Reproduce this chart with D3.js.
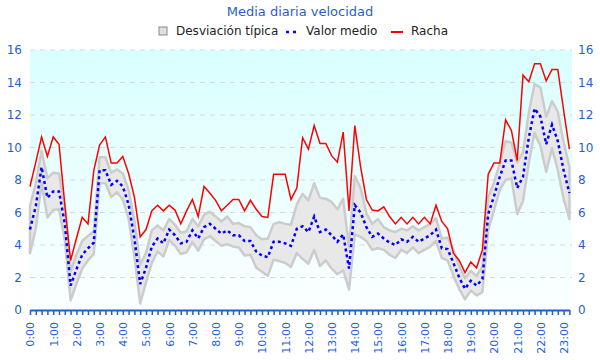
<!DOCTYPE html>
<html>
<head>
<meta charset="utf-8">
<script src="https://cdn.jsdelivr.net/npm/d3@7"></script>
<style>
  body { margin: 0; background: #fff; }
  svg { display: block; font-family: "DejaVu Sans", sans-serif; }
</style>
</head>
<body>
<svg id="chart" width="600" height="360"></svg>
<script>
// datos cada 15 minutos, de 0:00 a 23:15
const racha = [
  7.6, 9.1, 10.65, 9.45, 10.65, 10.2, 6.5, 3.05, 4.4, 5.7,
  5.3, 8.6, 10.15, 10.65, 9.05, 9.05, 9.45, 8.4, 6.95, 4.5,
  4.95, 6.1, 6.45, 6.1, 6.45, 6.15, 5.3, 6.1, 6.8, 5.75,
  7.6, 7.2, 6.75, 6.1, 6.45, 6.8, 6.8, 6.1, 6.75, 6.2,
  5.75, 5.7, 8.35, 8.35, 8.35, 6.8, 7.5, 10.6, 9.9, 11.35,
  10.25, 10.25, 9.5, 9.1, 10.95, 6.1, 11.35, 8.8, 6.8, 6.15,
  6.1, 6.35, 5.75, 5.3, 5.7, 5.3, 5.7, 5.3, 5.7, 5.3,
  6.45, 5.45, 5.0, 3.5, 3.05, 2.3, 2.95, 2.6, 3.7, 8.35,
  9.05, 9.05, 11.7, 11.05, 9.2, 14.45, 14.05, 15.15, 15.15, 14.1,
  14.8, 14.8, 12.3, 9.9
];
const media = [
  4.95, 6.4, 8.8, 6.9, 7.3, 7.3, 5.3, 1.5, 2.5, 3.4,
  3.8, 4.15, 8.6, 8.6, 7.7, 7.95, 7.6, 6.5, 4.4, 1.6,
  2.6, 3.9, 4.4, 4.1, 4.95, 4.6, 4.1, 4.2, 4.9, 4.4,
  5.1, 5.3, 5.0, 4.7, 4.9, 4.6, 4.6, 4.25, 4.25, 3.6,
  3.35, 3.25, 4.2, 4.2, 4.1, 3.95, 5.0, 5.15, 4.8, 5.75,
  4.8, 4.95, 4.6, 4.2, 4.65, 2.55, 6.45, 6.0, 5.1, 4.5,
  4.7, 4.4, 4.15, 4.0, 4.35, 4.2, 4.5, 4.2, 4.4, 4.6,
  4.95, 3.8, 3.75, 2.9, 2.0, 1.3, 1.8, 1.5, 1.9, 5.9,
  7.0, 8.2, 9.2, 9.2, 7.5, 8.2, 10.6, 12.4, 11.9, 10.2,
  11.4, 10.4, 8.6, 7.2
];
const desv = [
  1.45, 1.4, 1.0, 1.2, 1.15, 1.1, 1.0, 0.9, 0.9, 0.85,
  0.75, 0.7, 0.8, 0.8, 0.75, 0.7, 0.8, 0.9, 1.1, 1.2,
  0.9, 1.0, 0.8, 0.8, 0.65, 0.65, 0.65, 0.65, 0.7, 0.75,
  0.75, 0.75, 0.75, 0.75, 0.85, 0.7, 0.75, 0.9, 0.85, 1.0,
  1.0, 1.15, 1.1, 1.2, 1.2, 1.3, 1.5, 2.0, 1.95, 2.05,
  2.1, 1.9, 2.05, 2.0, 2.2, 1.3, 1.8, 1.5, 0.85, 0.8,
  0.9, 0.7, 0.75, 0.8, 0.65, 0.7, 0.65, 0.7, 0.7, 0.7,
  0.7, 0.6, 0.7, 0.8, 0.7, 0.65, 0.6, 0.6, 0.8, 1.0,
  0.85, 0.8, 1.2, 1.1, 1.6, 1.5, 1.55, 1.5, 1.8, 1.7,
  1.45, 1.8, 1.75, 1.6
];
const horas = d3.range(24).map(h => h + ":00");
const yTicks = [0, 2, 4, 6, 8, 10, 12, 14, 16];
const leyenda = ["Desviación típica", "Valor medio", "Racha"];
const paso = 15; // minutos

const azul = "#1f5fd3";
const svg = d3.select("#chart");

const x = d3.scaleLinear().domain([0, (media.length - 1) * paso]).range([30, 569.4]);
const y = d3.scaleLinear().domain([0, 16]).range([310, 50]);
const datos = media.map((m, i) => ({ t: i * paso, m, s: desv[i], r: racha[i] }));

// fondo degradado
const grad = svg.append("defs").append("linearGradient")
  .attr("id", "fondo").attr("x1", 0).attr("y1", 0).attr("x2", 0).attr("y2", 1);
grad.append("stop").attr("offset", "0%").attr("stop-color", "#d9ffff");
grad.append("stop").attr("offset", "100%").attr("stop-color", "#fbffff");

svg.append("rect")
  .attr("x", 30).attr("y", y(16))
  .attr("width", 572 - 30).attr("height", y(0) - y(16))
  .attr("fill", "url(#fondo)");

// rejilla
svg.append("g").selectAll("line")
  .data(yTicks.filter(d => d > 0))
  .join("line")
  .attr("x1", 30).attr("x2", 572)
  .attr("y1", d => y(d)).attr("y2", d => y(d))
  .attr("stroke", "#d8d8d8")
  .attr("stroke-dasharray", "5,5");

// banda desviación
const area = d3.area()
  .x(d => x(d.t))
  .y0(d => y(d.m - d.s))
  .y1(d => y(d.m + d.s));
svg.append("path").datum(datos)
  .attr("d", area)
  .attr("fill", "#e8e8e8")
  .attr("stroke", "#cccccc")
  .attr("stroke-width", 2.5)
  .attr("stroke-linejoin", "round");

// valor medio
svg.append("path").datum(datos)
  .attr("d", d3.line().x(d => x(d.t)).y(d => y(d.m)))
  .attr("fill", "none")
  .attr("stroke", "#0000ff")
  .attr("stroke-width", 2.5)
  .attr("stroke-dasharray", "3,3");

// racha
svg.append("path").datum(datos)
  .attr("d", d3.line().x(d => x(d.t)).y(d => y(d.r)))
  .attr("fill", "none")
  .attr("stroke", "#ff0000")
  .attr("stroke-width", 1.5);

// ejes Y
const ejeIzq = svg.append("g").attr("transform", "translate(22,0)")
  .call(d3.axisLeft(y).tickValues(yTicks).tickSize(0).tickPadding(0));
const ejeDer = svg.append("g").attr("transform", "translate(578,0)")
  .call(d3.axisRight(y).tickValues(yTicks).tickSize(0).tickPadding(0));
[ejeIzq, ejeDer].forEach(g => {
  g.select(".domain").remove();
  g.selectAll("text").attr("fill", azul).style("font-size", "12px")
    .style("font-family", "DejaVu Sans");
});

// eje X
const ticksX = d3.range(0, media.length * paso, paso);
const ejeX = svg.append("g").attr("transform", "translate(0,310)")
  .call(d3.axisBottom(x)
    .tickValues(ticksX)
    .tickSize(5)
    .tickSizeOuter(0)
    .tickFormat(d => d % 60 === 0 ? horas[d / 60] : ""));
ejeX.select(".domain").attr("stroke", azul).attr("stroke-width", 2);
ejeX.selectAll(".tick line").attr("stroke", azul).attr("stroke-width", 1.5);
ejeX.selectAll("text")
  .attr("fill", azul)
  .style("font-size", "11px")
  .style("font-family", "DejaVu Sans")
  .attr("transform", "rotate(-90)")
  .attr("x", -12).attr("y", 0).attr("dy", "0.35em")
  .attr("text-anchor", "end");

// título
svg.append("text")
  .attr("x", 300).attr("y", 16)
  .attr("text-anchor", "middle")
  .attr("fill", azul)
  .style("font-size", "13px")
  .text("Media diaria velocidad");

// leyenda
const ley = svg.append("g").style("font-size", "12px").attr("fill", "#222");
ley.append("rect").attr("x", 159).attr("y", 27).attr("width", 8).attr("height", 8)
  .attr("fill", "#e0e0e0").attr("stroke", "#888");
ley.append("text").attr("x", 176).attr("y", 35).text(leyenda[0]);
ley.append("line").attr("x1", 286).attr("x2", 299).attr("y1", 32).attr("y2", 32)
  .attr("stroke", "#0000ff").attr("stroke-width", 2.5).attr("stroke-dasharray", "3,4");
ley.append("text").attr("x", 306).attr("y", 35).text(leyenda[1]);
ley.append("line").attr("x1", 391).attr("x2", 403).attr("y1", 32).attr("y2", 32)
  .attr("stroke", "#ff0000").attr("stroke-width", 2);
ley.append("text").attr("x", 411).attr("y", 35).text(leyenda[2]);
</script>
</body>
</html>
